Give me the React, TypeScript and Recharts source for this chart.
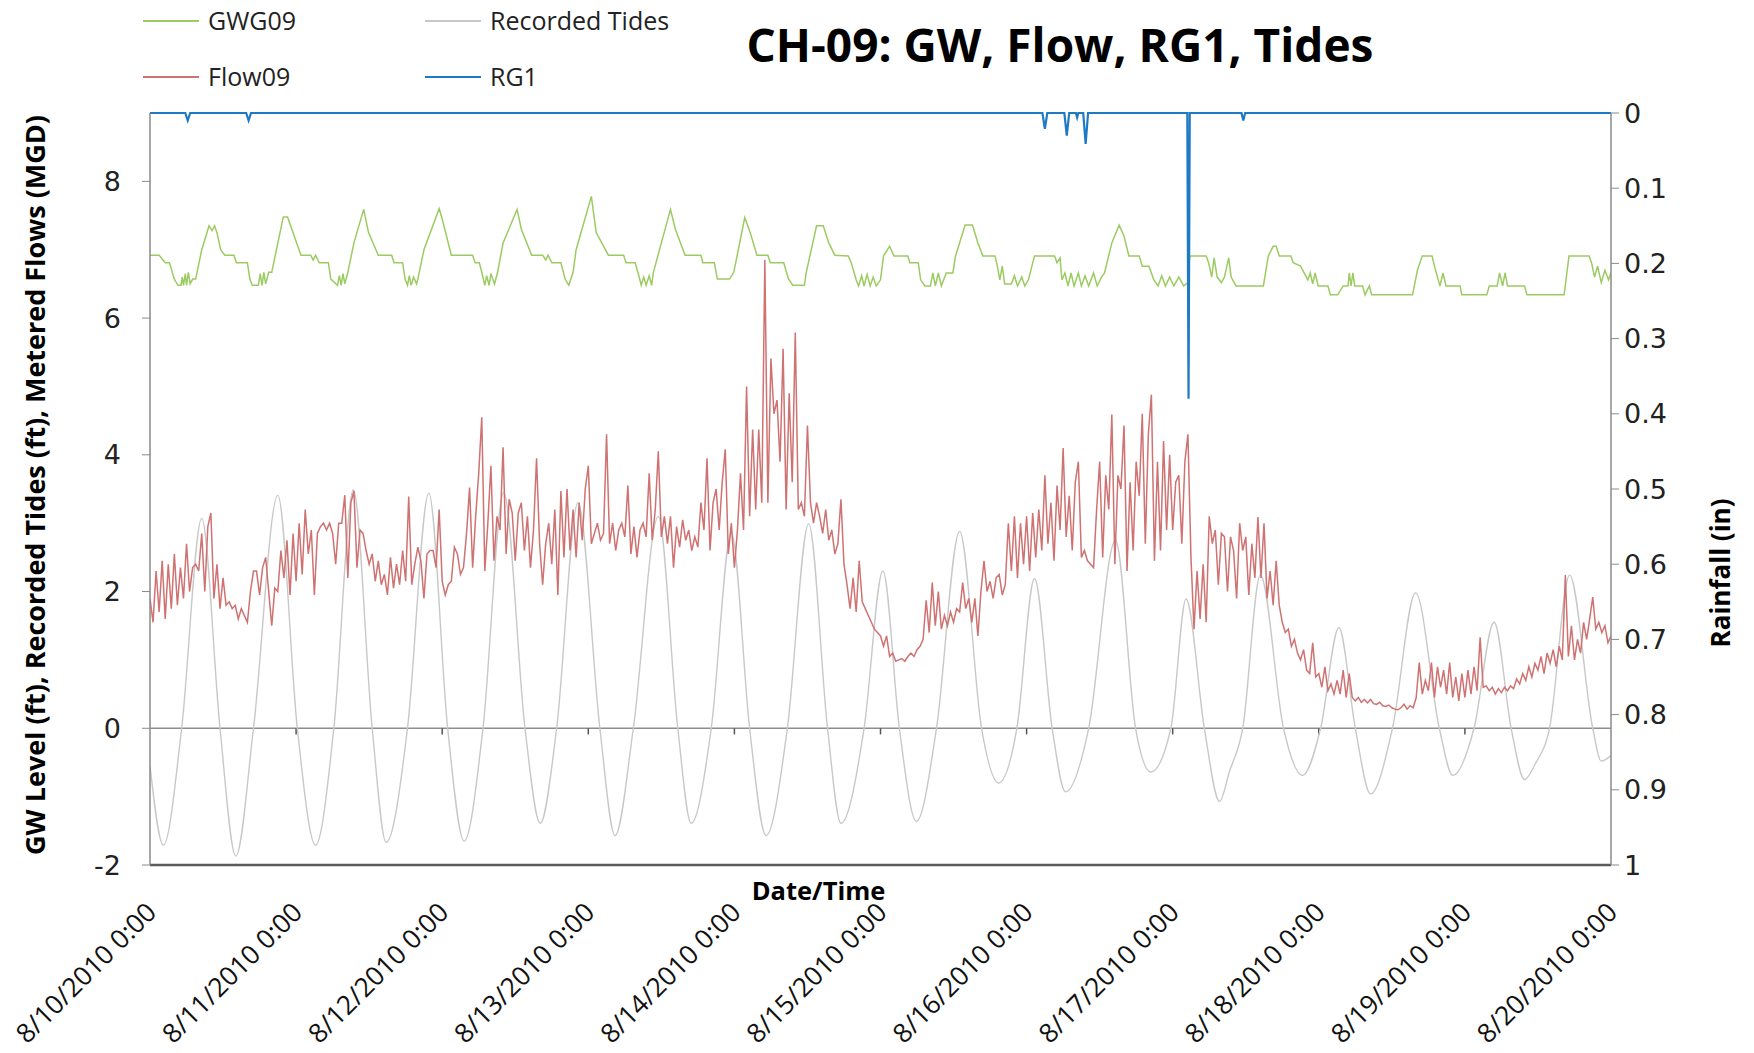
import React from 'react';
import { LineChart, Line, XAxis, YAxis, ReferenceLine, Label } from 'recharts';

// ---------- axis / label data ----------
const DAY_TICKS = [0, 24, 48, 72, 96, 120, 144, 168, 192, 216, 240];
const DAY_LABELS = [
  '8/10/2010 0:00', '8/11/2010 0:00', '8/12/2010 0:00', '8/13/2010 0:00', '8/14/2010 0:00',
  '8/15/2010 0:00', '8/16/2010 0:00', '8/17/2010 0:00', '8/18/2010 0:00', '8/19/2010 0:00',
  '8/20/2010 0:00',
];
const LEFT_TICKS = [-2, 0, 2, 4, 6, 8];
const RAIN_TICKS = [0, 0.1, 0.2, 0.3, 0.4, 0.5, 0.6, 0.7, 0.8, 0.9, 1];

const TITLE = 'CH-09: GW, Flow, RG1, Tides';
const LEFT_TITLE = 'GW Level (ft), Recorded Tides (ft), Metered Flows (MGD)';
const RIGHT_TITLE = 'Rainfall (in)';
const X_TITLE = 'Date/Time';

// ---------- Flow09 (MGD), half-hourly from 8/10 0:00 ----------
const FLOW_STEP_HOURS = 0.5;
const flowDay1 = [1.9,1.55,2.3,1.7,2.45,1.6,2.4,1.75,2.55,1.8,2.35,1.9,2.7,2.0,
  2.35,2.4,2.3,2.85,2.0,2.95,3.15,
  1.9,2.4,1.75,2.2,1.8,1.85,1.75,1.8,1.6,1.75,1.65,1.55,2.0,
  2.3,2.3,1.95,2.35,2.5,2.0,1.5,2.05,2.0,2.6,
  2.2,2.75,1.95,2.85];
const flowDay2 = [2.15,3.0,2.25,3.2,2.55,2.9,1.95,2.85,
  2.95,3.0,2.9,3.0,2.85,2.4,3.0,3.0,3.41,2.2,
  3.3,3.47,2.35,
  2.9,2.85,2.6,2.4,2.55,2.15,2.45,2.1,2.25,1.95,2.5,2.05,
  2.4,2.1,2.6,2.15,3.39,2.1,2.4,2.65,2.45,1.9,2.55,2.6,
  2.6,2.35,3.2];
const flowDay3 = [2.15,1.95,2.1,2.15,2.65,2.55,2.25,2.35,
  2.85,3.52,2.35,3.1,3.73,4.55,2.3,3.0,3.84,2.45,3.1,2.9,4.11,2.55,3.35,3.15,2.45,3.15,
  3.3,2.6,3.1,2.35,2.9,3.95,2.7,2.1,2.7,3.0,2.4,3.2,
  1.95,3.47,2.5,3.5,2.6,3.2,2.5,3.3,2.75,3.5];
const flowDay4 = [3.84,2.7,2.85,3.0,2.75,2.85,4.3,2.7,
  3.0,2.6,2.9,3.0,2.8,3.55,2.55,2.95,2.5,2.9,
  3.0,2.8,3.73,2.75,3.2,4.05,2.8,3.1,
  2.7,3.1,2.35,2.95,2.65,3.05,2.75,2.9,2.6,2.8,2.65,
  3.3,2.9,3.95,2.6,3.3,3.5,2.9,3.6,4.08,
  2.55,3.0];
const flowDay5 = [2.35,2.9,
  3.73,2.9,5.0,3.1,4.37,3.2,4.37,3.3,6.85,
  3.3,5.41,4.6,4.8,3.9,5.55,3.2,4.9,3.6,5.79,
  3.2,3.3,3.1,4.43,3.3,
  3.0,3.3,3.1,2.85,3.2,2.75,2.9,2.55,2.7,3.35,2.4,
  2.1,1.75,2.2,1.7,2.45,
  1.85,1.75,1.65,1.55,1.45,1.4];
const flowDay6 = [1.35,1.2,1.35,1.05,1.1,
  0.98,1.0,1.02,0.98,1.05,1.1,1.05,1.15,1.2,1.3,
  1.87,1.4,2.13,1.5,2.0,1.45,1.65,1.5,
  1.7,1.55,1.75,1.7,2.13,1.75,1.9,1.55,1.9,1.35,
  2.0,2.45,2.0,2.15,1.9,2.2,2.25,1.95,2.1,
  3.0,2.3,3.1,2.2,3.0,2.4];
const flowDay7 = [3.1,2.3,3.15,2.5,3.2,2.6,
  3.7,2.7,3.3,2.45,3.55,2.9,4.1,2.8,3.4,2.6,3.6,3.9,2.5,
  2.6,2.45,2.4,2.35,
  3.2,3.9,2.5,3.7,3.2,4.59,2.4,3.7,3.5,4.43,2.3,
  3.6,2.6,3.9,3.4,4.6,2.7,4.3,4.88,
  2.45,3.9,2.6,4.2,2.9,4.0];
const flowDay8 = [2.9,3.6,3.7,2.7,3.9,4.3,
  2.5,1.45,2.3,1.6,2.4,1.55,
  3.1,2.7,2.9,2.1,2.85,2.8,2.0,2.8,2.6,1.9,3.0,2.6,2.8,1.95,2.7,2.2,
  3.09,2.2,3.0,1.9,2.3,1.8,2.45,1.8,
  1.55,1.4,1.45,1.2,1.3,1.1,1.0,1.15,0.85,0.8,1.25,0.75];
const flowDay9 = [0.8,0.6,0.9,0.55,0.65,0.5,0.7,0.5,0.85,0.45,0.8,
  0.45,0.4,0.45,0.38,0.42,0.37,0.42,0.36,0.35,0.38,0.33,0.32,0.34,0.3,0.28,0.27,0.3,0.35,0.28,0.33,0.3,
  0.45,0.96,0.5,0.7,0.55,0.96,0.45,0.9,0.6,0.85,0.5,0.96,0.45,0.75,0.4,0.8];
const flowDay10 = [0.45,0.85,0.5,0.9,0.55,1.33,
  0.6,0.62,0.55,0.6,0.5,0.58,0.52,0.6,0.55,
  0.62,0.58,0.72,0.65,0.8,0.7,0.9,0.75,0.95,0.85,1.05,0.8,1.1,0.95,1.15,0.9,1.2,
  1.0,2.24,1.05,1.5,
  1.0,1.3,1.1,1.55,1.3,1.6,1.92,
  1.45,1.55,1.4,1.5,1.25,1.35];

// ---------- Recorded Tides (ft): [hour, value] ----------
const tidesA: [number, number][] = [
  [0,-0.55],[2.2,-1.71],[5.2,0],[8.5,3.07],[11.5,0],[14.1,-1.87],[17,0],[21,3.41],[24.2,0],
  [27.2,-1.71],[30.2,0],[33.4,3.49],[36.5,0],[38.8,-1.67],[42.3,0],[45.8,3.44],[48.9,0],
  [51.6,-1.65],[54.7,0],[58.1,3.45],[61.6,0],[64.1,-1.39],[66.8,0],[70.3,3.3],[73.9,0],
  [76.4,-1.57],[79.4,0],[83.5,3.1],[86.7,0],[88.9,-1.39],[92.2,0],[95.5,2.85],[98.5,0],
  [101.2,-1.57],[104.7,0],[108.2,2.99],[111.3,0],[113.5,-1.39],[117.3,0],
];
const tidesB: [number, number][] = [
  [120.4,2.3],[123.1,0],[125.9,-1.36],[129.2,0],[133,2.88],[136.6,0],[139.4,-0.8],[142.4,0],
  [145.3,2.19],[148.2,0],[150.4,-0.93],[154.2,0],[158.6,2.75],[161.9,0],[164.4,-0.64],[167.7,0],
  [170.2,1.89],[173.2,0],[175.7,-1.07],[177.3,-0.64],[179.5,0],[182.4,2.24],[186.2,0],
  [189.3,-0.69],[192.3,0],[195.3,1.47],[198,0],[200.5,-0.96],[204.1,0],[207.9,1.98],[211.8,0],
  [214,-0.69],[217.5,0],[220.8,1.55],[223.6,0],[225.8,-0.75],[227.5,-0.53],[229.9,0],
  [233.2,2.24],[237,0],[238.4,-0.48],[240,-0.4],
];

// ---------- GWG09 (ft): [hour, value] ----------
const gwA: [number, number][] = [
  [0,6.92],[1.5,6.92],[2.5,6.81],[3.2,6.81],[4,6.57],[4.6,6.48],[5.1,6.48],[5.3,6.6],[5.5,6.48],
  [5.8,6.65],[6,6.48],[6.3,6.67],[6.6,6.5],[7,6.57],[7.5,6.57],[8.5,7],[9.7,7.35],[10.2,7.28],
  [10.6,7.35],[11,7.25],[11.6,7],[12.3,6.92],[13.8,6.92],[14.2,6.81],[16,6.81],[16.4,6.57],
  [16.8,6.48],[17.8,6.48],[18.1,6.65],[18.4,6.48],[18.7,6.67],[19,6.5],[19.5,6.67],[20,6.67],
  [21,7.1],[21.9,7.48],[22.6,7.48],[23.5,7.25],[24.8,6.92],[26.4,6.92],[26.8,6.85],[27.2,6.92],
  [27.8,6.81],[29.3,6.81],[29.7,6.57],[30.8,6.48],[31.1,6.62],[31.4,6.48],[31.7,6.65],[32,6.5],
  [32.5,6.67],[33.5,7.1],[35.1,7.59],[35.9,7.25],[37.5,6.92],[39.7,6.92],[40.1,6.81],[41.5,6.81],
  [41.9,6.57],[42.3,6.48],[42.6,6.62],[42.9,6.48],[43.3,6.6],[43.8,6.5],[44,6.57],[45,7],
  [47.5,7.6],[48,7.45],[49.5,6.92],[53,6.92],[53.4,6.81],[54.1,6.81],[54.5,6.67],[55,6.48],
  [55.3,6.62],[55.7,6.48],[56,6.65],[56.6,6.5],[57.1,6.67],[58,7.1],[60.3,7.59],[61,7.3],
];
const gwB: [number, number][] = [
  [62.7,6.92],[64.5,6.92],[65,6.85],[65.4,6.92],[66,6.81],[67.5,6.81],[68.2,6.57],[68.8,6.48],
  [69.5,6.67],[70,7],[72.5,7.78],[73.3,7.25],[75.3,6.92],[77.8,6.92],[78.2,6.81],[79.7,6.81],
  [80.3,6.62],[80.7,6.48],[81.1,6.6],[81.5,6.48],[82,6.62],[82.4,6.48],[82.7,6.67],[84,7.1],
  [85.5,7.59],[86.3,7.3],[87.9,6.92],[90.5,6.92],[90.8,6.81],[92.7,6.81],[93.2,6.57],[95.2,6.57],
  [95.9,6.67],[97.7,7.47],[98.6,7.25],[99.7,6.92],[101.5,6.92],[101.9,6.81],[104.1,6.81],
  [104.9,6.57],[105.6,6.48],[107.5,6.48],[107.8,6.67],[109.5,7.35],[110.6,7.35],[111.5,7.1],
  [112.5,6.92],[114.7,6.91],[115.2,6.81],[116,6.56],[116.4,6.47],[116.9,6.62],[117.3,6.47],
  [117.8,6.64],[118.3,6.47],[118.8,6.6],[119.3,6.47],[120,6.56],[120.5,6.91],[121.5,7.05],
  [122.2,6.91],[124.5,6.91],[124.8,6.81],[126.2,6.81],[126.6,6.56],[127.3,6.47],[128.2,6.47],
  [128.6,6.66],[129,6.47],[129.5,6.66],[130,6.47],[130.8,6.66],[131.9,6.66],[132.3,6.9],
];
const gwC: [number, number][] = [
  [133.9,7.36],[135.1,7.36],[136,7.1],[136.8,6.91],[138.8,6.91],[139.2,6.76],[139.6,6.56],
  [140,6.76],[140.4,6.5],[141.5,6.5],[142,6.62],[142.5,6.47],[143.2,6.6],[143.7,6.47],[144.3,6.56],
  [145.3,6.91],[148.6,6.91],[149,6.81],[149.5,6.88],[149.8,6.56],[150.3,6.66],[150.8,6.47],
  [151.3,6.66],[151.8,6.47],[152.5,6.66],[153,6.47],[153.6,6.62],[154.2,6.47],[155,6.66],
  [155.6,6.47],[156.3,6.6],[156.8,6.66],[158,7.1],[159.2,7.36],[160,7.2],[160.8,6.91],
  [162.5,6.91],[163,6.76],[164.1,6.76],[164.9,6.56],[165.6,6.47],[166.2,6.62],[166.8,6.47],
  [167.5,6.6],[168.2,6.47],[169,6.6],[169.8,6.47],[170.5,6.52],[170.8,6.91],[173.5,6.91],
  [173.9,6.81],[174.4,6.6],[174.8,6.88],[175.3,6.6],[176,6.52],[176.5,6.6],[177.2,6.88],
  [177.6,6.6],[178.4,6.47],[182.9,6.47],[183.7,6.91],[184.5,7.05],[185,7.05],[185.5,6.91],
];
const gwD: [number, number][] = [
  [187.4,6.91],[187.8,6.81],[189,6.76],[190.2,6.56],[190.6,6.66],[191,6.5],[191.4,6.66],
  [191.9,6.47],[193.5,6.47],[193.9,6.34],[195.1,6.34],[196,6.47],[196.8,6.47],[197,6.66],
  [197.3,6.47],[197.6,6.66],[197.9,6.47],[199.2,6.47],[199.6,6.34],[200.3,6.47],[200.7,6.34],
  [207.4,6.34],[208.2,6.7],[209,6.91],[210.6,6.91],[211,6.76],[211.9,6.47],[212.4,6.66],
  [212.9,6.47],[215.2,6.47],[215.5,6.34],[219.6,6.34],[220,6.47],[221.3,6.47],[221.7,6.66],
  [222.2,6.47],[222.6,6.66],[223,6.47],[225.8,6.47],[226.2,6.34],[232.3,6.34],[233.1,6.91],
  [236.4,6.91],[236.8,6.81],[237.3,6.6],[237.8,6.76],[238.4,6.52],[239,6.7],[239.6,6.56],[240,6.66],
];

// ---------- RG1 rainfall (in): [hour, value] ----------
const rainPoints: [number, number][] = [
  [0,0],[5.8,0],[6.2,0.01],[6.6,0],[15.8,0],[16.2,0.01],[16.6,0],
  [146.6,0],[147,0.021],[147.4,0],[150.2,0],[150.6,0.03],[151,0],[152.1,0],[152.3,0.006],[152.5,0],
  [153.3,0],[153.7,0.041],[154.1,0],[170.4,0],[170.6,0.38],[170.8,0],
  [179.3,0],[179.6,0.01],[179.9,0],[240,0],
];

const COLORS = { gw: '#9CCB62', flow: '#CF7272', tides: '#C8C8C8', rain: '#1F7AC4' };

const SERIES = [
  { key: 'gw', name: 'GWG09', color: COLORS.gw },
  { key: 'flow', name: 'Flow09', color: COLORS.flow },
  { key: 'tides', name: 'Recorded Tides', color: COLORS.tides },
  { key: 'rain', name: 'RG1', color: COLORS.rain },
];

// ---------- build tables ----------
const flowValues = [
  ...flowDay1, ...flowDay2, ...flowDay3, ...flowDay4, ...flowDay5,
  ...flowDay6, ...flowDay7, ...flowDay8, ...flowDay9, ...flowDay10,
];
const flowData = flowValues.map((v, i) => ({ t: i * FLOW_STEP_HOURS, flow: v }));
const tidesData = [...tidesA, ...tidesB].map(([t, v]) => ({ t, tides: v }));
const gwData = [...gwA, ...gwB, ...gwC, ...gwD].map(([t, v]) => ({ t, gw: v }));
const rainData = rainPoints.map(([t, v]) => ({ t, rain: v }));

const W = 1738;
const H = 1045;
const FONT = '"Open Sans", "DejaVu Sans", sans-serif';
const NUM_FONT = '"DejaVu Sans", sans-serif';

const XTick = (props: any) => {
  const { x, y, payload } = props;
  const idx = DAY_TICKS.indexOf(payload.value);
  const ax = x + 8;
  const ay = y + 49;
  return (
    <text x={ax} y={ay} transform={`rotate(-45 ${ax} ${ay})`} textAnchor="end"
      fontFamily={FONT} fontSize={26.5} fill="#111">{DAY_LABELS[idx]}</text>
  );
};

const LeftTitle = (props: any) => {
  const vb = props.viewBox;
  const cx = vb.x + vb.width - 116;
  const cy = vb.y + vb.height / 2 - 4;
  return (
    <text x={cx} y={cy} transform={`rotate(-90 ${cx} ${cy})`} textAnchor="middle"
      dominantBaseline="central" fontFamily={FONT} fontWeight={700} fontSize={27} fill="#000">{LEFT_TITLE}</text>
  );
};

const RightTitle = (props: any) => {
  const vb = props.viewBox;
  const cx = vb.x + 109;
  const cy = vb.y + vb.height / 2 + 84;
  return (
    <text x={cx} y={cy} transform={`rotate(-90 ${cx} ${cy})`} textAnchor="middle"
      dominantBaseline="central" fontFamily={FONT} fontWeight={700} fontSize={26} fill="#000">{RIGHT_TITLE}</text>
  );
};

const XTitle = (props: any) => {
  const vb = props.viewBox;
  const cx = vb.x + vb.width / 2 - 62;
  const cy = vb.y + 35;
  return (
    <text x={cx} y={cy} textAnchor="middle" fontFamily={FONT} fontWeight={700} fontSize={25.5} fill="#000">{X_TITLE}</text>
  );
};

const LegendOverlay = () => {
  const cols = [135, 417];
  const rows = [21, 77];
  // column-major order: GWG09, Flow09 | Recorded Tides, RG1
  return (
    <svg width={700} height={105} style={{ position: 'absolute', left: 0, top: -8 }}>
      {SERIES.map((s, i) => {
        const cx = cols[Math.floor(i / 2)];
        const cy = rows[i % 2];
        return (
          <g key={s.key}>
            <line x1={cx} x2={cx + 56} y1={cy} y2={cy} stroke={s.color} strokeWidth={2} />
            <text x={cx + 65} y={cy + 9} fontFamily={FONT} fontSize={25} fill="#222">{s.name}</text>
          </g>
        );
      })}
    </svg>
  );
};

export default function App() {
  return (
    <div style={{ position: 'relative', width: W, height: H, background: '#fff' }}>
      <LineChart width={W} height={H} margin={{ top: 105, right: 35, bottom: 38, left: 42 }}>
        <XAxis dataKey="t" type="number" domain={[0, 240]} ticks={DAY_TICKS} xAxisId="x"
          allowDataOverflow tick={<XTick />} tickLine={false} tickSize={0} tickMargin={0}
          axisLine={{ stroke: '#5a5a5a', strokeWidth: 2.5 }} height={150} interval={0}>
          <Label content={<XTitle />} />
        </XAxis>
        <YAxis yAxisId="left" domain={[-2, 9]} ticks={LEFT_TICKS} width={100} interval={0}
          axisLine={{ stroke: '#8a8a8a', strokeWidth: 1.5 }} tickLine={{ stroke: '#8a8a8a' }}
          tickSize={8} tickMargin={21}
          tick={{ fontFamily: NUM_FONT, fontSize: 27, fill: '#222' }}>
          <Label content={<LeftTitle />} />
        </YAxis>
        <YAxis yAxisId="rain" orientation="right" domain={[0, 1]} reversed ticks={RAIN_TICKS}
          width={100} interval={0} axisLine={{ stroke: '#8a8a8a', strokeWidth: 1.5 }}
          tickLine={{ stroke: '#8a8a8a' }} tickSize={8} tickMargin={5}
          tick={{ fontFamily: NUM_FONT, fontSize: 27, fill: '#222', textAnchor: 'start' }}>
          <Label content={<RightTitle />} />
        </YAxis>
        <ReferenceLine yAxisId="left" xAxisId="x" y={0} stroke="#8e8e8e" strokeWidth={1.5} />
        {DAY_TICKS.slice(1, -1).map((d) => (
          <ReferenceLine key={d} yAxisId="left" xAxisId="x"
            segment={[{ x: d, y: 0 }, { x: d, y: -0.09 }]} stroke="#555" strokeWidth={1.5} />
        ))}
        <Line data={tidesData} dataKey="tides" name="Recorded Tides" xAxisId="x" yAxisId="left"
          type="monotone" stroke={COLORS.tides} strokeWidth={1.4} dot={false} isAnimationActive={false} />
        <Line data={flowData} dataKey="flow" name="Flow09" xAxisId="x" yAxisId="left"
          type="linear" stroke={COLORS.flow} strokeWidth={1.5} dot={false} isAnimationActive={false} />
        <Line data={gwData} dataKey="gw" name="GWG09" xAxisId="x" yAxisId="left"
          type="linear" stroke={COLORS.gw} strokeWidth={1.5} dot={false} isAnimationActive={false} />
        <Line data={rainData} dataKey="rain" name="RG1" xAxisId="x" yAxisId="rain"
          type="linear" stroke={COLORS.rain} strokeWidth={2.2} dot={false} isAnimationActive={false} />
      </LineChart>
      <LegendOverlay />
      <div style={{
        position: 'absolute', left: 1052 - 400, top: 9, width: 800, textAlign: 'center',
        fontFamily: FONT, fontWeight: 700, fontSize: 46, color: '#000', lineHeight: '54px',
        whiteSpace: 'nowrap',
      }}>{TITLE}</div>
    </div>
  );
}
